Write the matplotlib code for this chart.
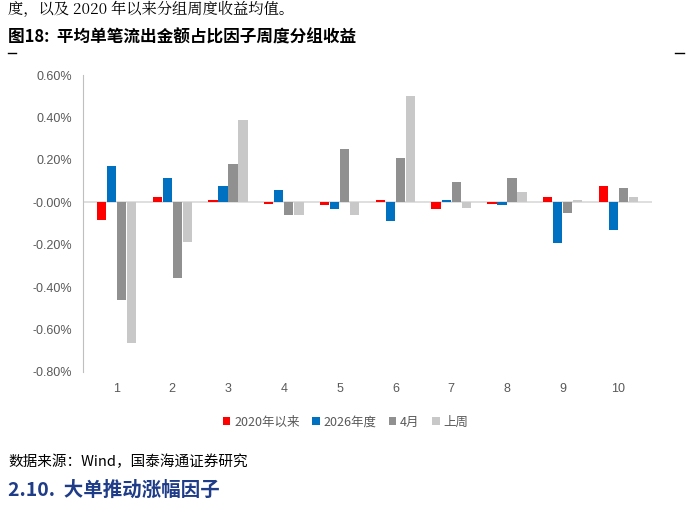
import matplotlib
matplotlib.use("Agg")
import matplotlib.pyplot as plt
import numpy as np

plt.rcParams['font.family'] = ['Noto Sans CJK SC', 'DejaVu Sans']

categories = ['1', '2', '3', '4', '5', '6', '7', '8', '9', '10']
series_names = ['2020年以来', '2026年度', '4月', '上周']
s2020 = [-0.085, 0.025, 0.01, -0.01, -0.015, 0.01, -0.03, -0.01, 0.025, 0.075]
s2026 = [0.17, 0.115, 0.075, 0.06, -0.03, -0.09, 0.01, -0.015, -0.19, -0.13]
s_apr = [-0.46, -0.355, 0.18, -0.06, 0.25, 0.21, 0.095, 0.115, -0.05, 0.065]
s_week = [-0.665, -0.185, 0.39, -0.06, -0.06, 0.50, -0.025, 0.05, 0.01, 0.025]
colors = ['#FF0000', '#0070C0', '#909090', '#C8C8C8']

W, H = 691, 518
fig = plt.figure(figsize=(W/100, H/100), dpi=100)
ax = fig.add_axes([83/W, 1-372/H, (652-83)/W, (372-75)/H])

x = np.arange(len(categories))
bw = 0.18
for i, (vals, c, n) in enumerate(zip([s2020, s2026, s_apr, s_week], colors, series_names)):
    ax.bar(x + (i-1.5)*bw, vals, bw*0.92, color=c, label=n)

ax.set_ylim(-0.8, 0.6)
ax.set_xlim(-0.6, 9.6)
ax.set_yticks(np.arange(-0.8, 0.61, 0.2))
ax.set_yticklabels([f'{v:.2f}%' for v in np.arange(-0.8, 0.61, 0.2)], fontsize=9, color='#595959', family=['Liberation Sans'])
ax.set_xticks(x)
ax.set_xticklabels(categories, fontsize=9, color='#595959', family=['Liberation Sans'])
for s in ['top', 'right', 'bottom']:
    ax.spines[s].set_visible(False)
ax.spines['left'].set_color('#BFBFBF')
ax.axhline(0, color='#D9D9D9', lw=1.2, zorder=0)
ax.tick_params(axis='both', length=0, pad=8)

leg = fig.legend(loc='center', bbox_to_anchor=(0.5, 1-422/H), ncol=4, frameon=False,
                 fontsize=9, handlelength=0.6, handleheight=0.6, columnspacing=1.0, handletextpad=0.3)
for t in leg.get_texts():
    t.set_color('#595959')

fig.text(8/W, 1-10/H, '度，以及 2020 年以来分组周度收益均值。', fontsize=11, va='center', family=['Noto Serif CJK SC', 'Noto Sans CJK SC'])
fig.text(8/W, 1-38/H, '图18:  平均单笔流出金额占比因子周度分组收益', fontsize=12, va='center', weight='bold')
fig.add_artist(plt.Line2D([8/W, 16/W], [1-53/H]*2, color='black', lw=1))
fig.add_artist(plt.Line2D([675/W, 684/W], [1-53/H]*2, color='black', lw=1))
fig.text(8/W, 1-462/H, '数据来源：Wind，国泰海通证券研究', fontsize=10.5, va='center')
fig.text(8/W, 1-490/H, '2.10.  大单推动涨幅因子', fontsize=14, va='center', weight='bold', color='#1F3C88')

fig.savefig('out.png', dpi=100)
